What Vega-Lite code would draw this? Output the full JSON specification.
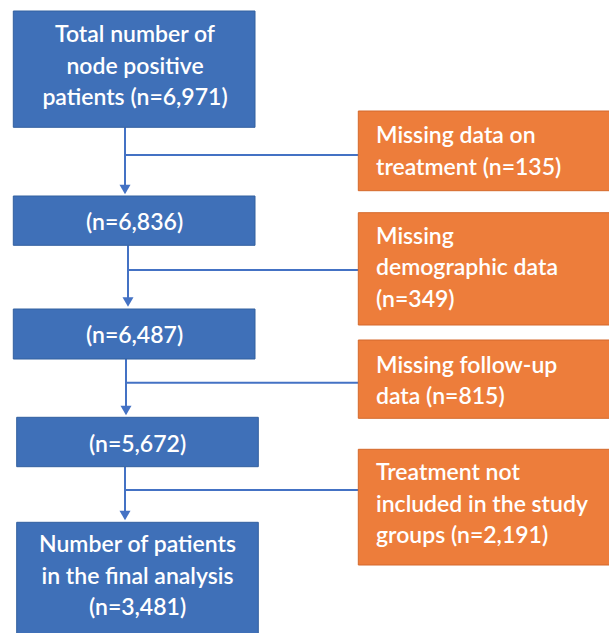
{
  "$schema": "https://vega.github.io/schema/vega-lite/v6.json",
  "width": 609,
  "height": 633,
  "autosize": "none",
  "padding": 0,
  "background": "white",
  "config": {"view": {"stroke": null}},
  "datasets": {
    "boxes": [
      {"x": 13.3, "x2": 255, "y": 11, "y2": 127.3, "kind": "step"},
      {"x": 13.3, "x2": 255, "y": 196, "y2": 245.3, "kind": "step"},
      {"x": 13.3, "x2": 255, "y": 309, "y2": 359, "kind": "step"},
      {"x": 16.7, "x2": 258.3, "y": 417.3, "y2": 466.7, "kind": "step"},
      {"x": 16.7, "x2": 258.3, "y": 522.3, "y2": 634, "kind": "step"},
      {"x": 358.3, "x2": 612, "y": 111, "y2": 190.7, "kind": "excluded"},
      {"x": 358.3, "x2": 612, "y": 212.7, "y2": 325, "kind": "excluded"},
      {"x": 358.3, "x2": 612, "y": 340, "y2": 418.3, "kind": "excluded"},
      {"x": 358.3, "x2": 612, "y": 449.3, "y2": 565, "kind": "excluded"}
    ],
    "shafts": [
      {"x": 125, "y": 127.3, "y2": 190},
      {"x": 128, "y": 245.3, "y2": 302},
      {"x": 126, "y": 359, "y2": 411},
      {"x": 125, "y": 466.7, "y2": 516}
    ],
    "heads": [
      {"x": 125, "y": 189.4},
      {"x": 128, "y": 301.9},
      {"x": 126, "y": 410.4},
      {"x": 125, "y": 515.4}
    ],
    "connectors": [
      {"x": 125, "x2": 358.3, "y": 155},
      {"x": 128, "x2": 358.3, "y": 270},
      {"x": 126, "x2": 358.3, "y": 382.7},
      {"x": 125, "x2": 358.3, "y": 490}
    ],
    "stepLabels": [
      {"x": 135, "y": 35, "label": "Total number of\nnode positive\npatients (n=6,971)"},
      {"x": 134.5, "y": 223.3, "label": "(n=6,836)"},
      {"x": 134.5, "y": 335.7, "label": "(n=6,487)"},
      {"x": 137.5, "y": 445, "label": "(n=5,672)"},
      {"x": 137.5, "y": 545, "label": "Number of patients\nin the final analysis\n(n=3,481)"}
    ],
    "exclLabels": [
      {"x": 376, "y": 136, "label": "Missing data on\ntreatment (n=135)"},
      {"x": 376, "y": 236.7, "label": "Missing\ndemographic data\n(n=349)"},
      {"x": 376, "y": 365.7, "label": "Missing follow-up\ndata (n=815)"},
      {"x": 376, "y": 473.3, "label": "Treatment not\nincluded in the study\ngroups (n=2,191)"}
    ]
  },
  "encoding": {
    "x": {"field": "x", "type": "quantitative", "axis": null, "scale": {"domain": [0, 609], "nice": false, "zero": false}},
    "y": {"field": "y", "type": "quantitative", "axis": null, "scale": {"domain": [0, 633], "nice": false, "zero": false, "reverse": true}}
  },
  "layer": [
    {
      "data": {"name": "connectors"},
      "mark": {"type": "rule", "color": "#4472C4", "strokeWidth": 2},
      "encoding": {"x2": {"field": "x2"}}
    },
    {
      "data": {"name": "shafts"},
      "mark": {"type": "rule", "color": "#4472C4", "strokeWidth": 2},
      "encoding": {"y2": {"field": "y2"}}
    },
    {
      "data": {"name": "heads"},
      "mark": {"type": "point", "shape": "triangle-down", "filled": true, "size": 121, "color": "#4472C4", "opacity": 1}
    },
    {
      "data": {"name": "boxes"},
      "mark": {"type": "rect", "strokeWidth": 1},
      "encoding": {
        "x2": {"field": "x2"},
        "y2": {"field": "y2"},
        "fill": {"field": "kind", "type": "nominal", "legend": null, "scale": {"domain": ["step", "excluded"], "range": ["#3F70B8", "#ED7D3B"]}},
        "stroke": {"field": "kind", "type": "nominal", "legend": null, "scale": {"domain": ["step", "excluded"], "range": ["#33609F", "#D4692C"]}}
      }
    },
    {
      "data": {"name": "stepLabels"},
      "mark": {"type": "text", "align": "center", "baseline": "middle", "lineBreak": "\n", "lineHeight": 31.6, "font": "Lato", "fontSize": 23, "fontWeight": 600, "color": "white"},
      "encoding": {"text": {"field": "label"}}
    },
    {
      "data": {"name": "exclLabels"},
      "mark": {"type": "text", "align": "left", "baseline": "middle", "lineBreak": "\n", "lineHeight": 31.6, "font": "Lato", "fontSize": 23, "fontWeight": 600, "color": "white"},
      "encoding": {"text": {"field": "label"}}
    }
  ]
}
